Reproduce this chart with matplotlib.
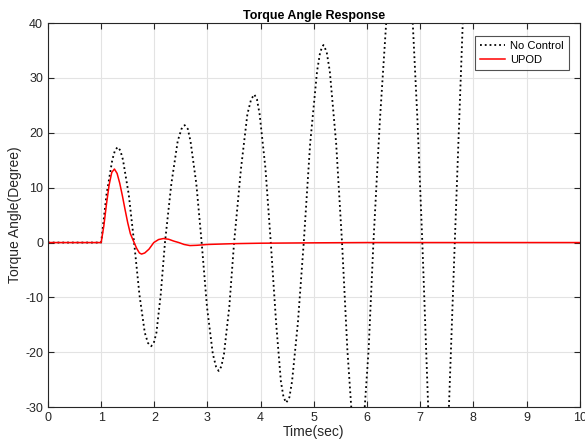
import matplotlib
matplotlib.use('Agg')
import matplotlib.pyplot as plt

plt.rcParams['font.family'] = ['Liberation Sans', 'DejaVu Sans']
plt.rcParams['axes.unicode_minus'] = False

# No Control response (degrees vs seconds)
t_nc = [0.0, 1.0, 1.10, 1.21, 1.26, 1.31, 1.36, 1.41, 1.52, 1.62,
        1.72, 1.82, 1.88, 1.94, 1.99, 2.04, 2.12, 2.20,
        2.32, 2.44, 2.51, 2.57, 2.63, 2.68, 2.79, 2.89,
        2.99, 3.10, 3.16, 3.21, 3.26, 3.31, 3.41, 3.50,
        3.63, 3.75, 3.82, 3.88, 3.93, 3.98, 4.09, 4.19,
        4.29, 4.38, 4.43, 4.48, 4.54, 4.59, 4.70, 4.81,
        4.93, 5.06, 5.12, 5.18, 5.24, 5.30, 5.42, 5.53,
        5.63, 5.73, 5.83, 5.93, 6.03, 6.12,
        6.24, 6.36, 6.47, 6.58, 6.70, 6.86, 6.95, 7.04,
        7.15, 7.25, 7.35, 7.45, 7.54, 7.65,
        7.80, 7.95, 8.20, 8.60, 9.00, 9.50, 10.0]
y_nc = [0.0, 0.0, 8.7, 15.1, 16.8, 17.4, 16.8, 15.1, 8.7, 0.0,
        -9.5, -16.4, -18.3, -18.9, -18.3, -16.4, -9.5, 0.0,
        10.7, 18.5, 20.7, 21.4, 20.7, 18.5, 10.7, 0.0,
        -11.7, -20.3, -22.6, -23.4, -22.6, -20.3, -11.7, 0.0,
        13.5, 23.4, 26.1, 27.0, 26.1, 23.4, 13.5, 0.0,
        -14.6, -25.3, -28.2, -29.2, -28.2, -25.3, -14.6, 0.0,
        18.0, 31.2, 34.8, 36.0, 34.8, 31.2, 18.0, 0.0,
        -19.5, -33.8, -39.0, -33.8, -19.5, 0.0,
        22.0, 40.0, 55.0, 63.0, 60.0, 40.0, 22.0, 0.0,
        -30.0, -50.0, -57.0, -50.0, -30.0, 0.0,
        40.0, 78.0, 130.0, 200.0, 260.0, 320.0, 370.0]

# UPOD response
t_up = [0.0, 1.0, 1.05, 1.10, 1.15, 1.20, 1.25, 1.30, 1.35, 1.40, 1.45,
        1.50, 1.55, 1.62, 1.67, 1.72, 1.76, 1.82, 1.90, 1.99, 2.08,
        2.17, 2.27, 2.37, 2.46, 2.56, 2.67, 2.80, 3.00, 3.50, 4.00,
        5.00, 6.00, 10.0]
y_up = [0.0, 0.0, 3.0, 7.0, 10.5, 12.8, 13.4, 12.6, 10.8, 8.5, 6.0,
        3.6, 1.6, 0.0, -1.1, -1.9, -2.1, -1.9, -1.2, 0.0, 0.55,
        0.73, 0.6, 0.25, 0.0, -0.35, -0.55, -0.5, -0.35, -0.2, -0.12,
        -0.05, 0.0, 0.0]

x_ticks = list(range(0, 11))
y_ticks = [-30, -20, -10, 0, 10, 20, 30, 40]

fig = plt.figure(figsize=(5.85, 4.44), dpi=100)
ax = fig.add_axes([0.082, 0.083, 0.909, 0.865])

ax.plot(t_nc, y_nc, color='black', linestyle=':', linewidth=1.3, label='No Control')
ax.plot(t_up, y_up, color='#ff0000', linestyle='-', linewidth=1.1, label='UPOD')

ax.set_xlim(0, 10)
ax.set_ylim(-30, 40)
ax.set_xticks(x_ticks)
ax.set_yticks(y_ticks)
ax.grid(True, color='#e3e3e3', linewidth=0.8)
ax.set_axisbelow(True)

ax.tick_params(direction='in', length=4, width=0.8, top=True, right=True,
               labelsize=9, colors='#262626')
for s in ax.spines.values():
    s.set_color('#262626')
    s.set_linewidth(0.8)

ax.set_title('Torque Angle Response', fontsize=9, fontweight='bold', pad=3)
ax.set_xlabel('Time(sec)', fontsize=10, color='#262626', labelpad=1)
ax.set_ylabel('Torque Angle(Degree)', fontsize=10, color='#262626', labelpad=2)

leg = ax.legend(loc='upper right', fontsize=8, frameon=True, fancybox=False,
                edgecolor='#262626', handlelength=2.3, handletextpad=0.4,
                borderpad=0.45, labelspacing=0.35, borderaxespad=0,
                bbox_to_anchor=(0.979, 0.967))
leg.get_frame().set_linewidth(0.8)

fig.savefig('out.png', dpi=100)
